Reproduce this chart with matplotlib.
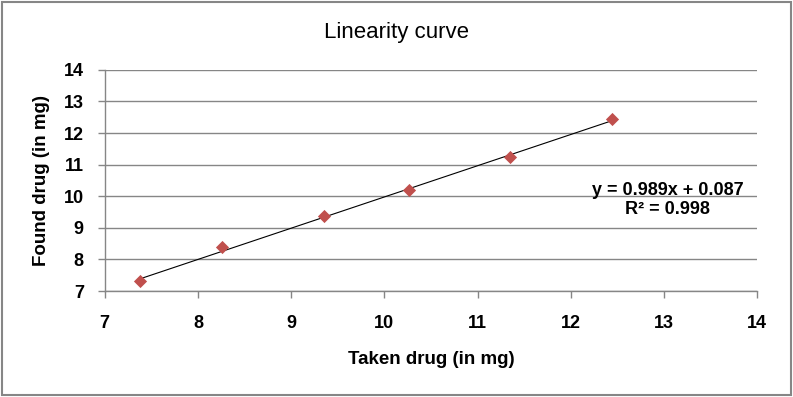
import numpy as np
import matplotlib
matplotlib.use('Agg')
import matplotlib.pyplot as plt
from matplotlib.patches import Rectangle

# Values
taken_mg = [7.38, 8.26, 9.35, 10.26, 11.35, 12.44]
found_mg = [7.32, 8.38, 9.39, 10.21, 11.24, 12.43]
slope, intercept = 0.989, 0.087
ticks = [7, 8, 9, 10, 11, 12, 13, 14]

plt.rcParams['font.family'] = ['Liberation Sans', 'DejaVu Sans']

fig = plt.figure(figsize=(7.93, 3.97), dpi=100)
fig.patch.set_facecolor('white')
fig.patches.append(Rectangle((0.003, 0.005), 0.994, 0.99, transform=fig.transFigure,
                             fill=False, edgecolor='#868686', lw=1.5))

ax = fig.add_axes([0.132, 0.267, 0.823, 0.557])

x_fit = np.array([taken_mg[0], taken_mg[-1]])
ax.plot(x_fit, slope * x_fit + intercept, color='black', lw=0.8, zorder=2)
ax.scatter(taken_mg, found_mg, marker='D', s=45, color='#C0504D', zorder=3, linewidths=0)

ax.set_xlim(7, 14)
ax.set_ylim(7, 14)
ax.set_xticks(ticks)
ax.set_yticks(ticks)
ax.set_xticklabels([str(t) for t in ticks], fontsize=13, fontweight='bold')
ax.set_yticklabels([str(t) for t in ticks], fontsize=13, fontweight='bold')

ax.grid(axis='y', color='#868686', lw=1.0)
ax.set_axisbelow(True)
for side in ['top', 'right']:
    ax.spines[side].set_visible(False)
for side in ['left', 'bottom']:
    ax.spines[side].set_color('#868686')
    ax.spines[side].set_linewidth(1.0)
ax.tick_params(axis='x', color='#868686', length=5, width=1.0, pad=12)
ax.tick_params(axis='y', color='#868686', length=5, width=1.0, pad=10)

ax.set_xlabel('Taken drug (in mg)', fontsize=13.5, fontweight='bold', labelpad=14)
ax.set_ylabel('Found drug (in mg)', fontsize=13.5, fontweight='bold', labelpad=10)

fig.text(0.5, 0.919, 'Linearity curve', fontsize=16, ha='center', va='center')

ax.text(0.863, 0.41, 'y = 0.989x + 0.087\nR² = 0.998', transform=ax.transAxes,
        fontsize=13, fontweight='bold', ha='center', va='center', linespacing=1.15)

fig.savefig('out.png', dpi=100)
